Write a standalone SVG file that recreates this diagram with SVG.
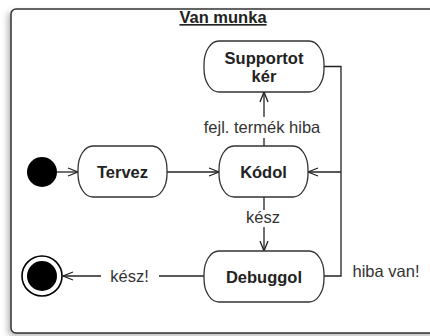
<svg xmlns="http://www.w3.org/2000/svg" width="430" height="336" viewBox="0 0 430 336">
  <style>
    .node { fill: #ffffff; stroke: #333333; stroke-width: 1.3; }
    .bold { font-family: "Liberation Sans", Arial, sans-serif; font-weight: bold; font-size: 16.5px; fill: #222222; text-anchor: middle; }
    .lbl { font-family: "Liberation Sans", Arial, sans-serif; font-size: 16.5px; fill: #333333; text-anchor: middle; }
    .edge { fill: none; stroke: #222222; stroke-width: 1.3; }
  </style>
  <defs>
    <marker id="arr" viewBox="0 0 12 10" refX="11" refY="5" markerWidth="12" markerHeight="10" markerUnits="userSpaceOnUse" orient="auto">
      <path d="M1,1 L11,5 L1,9" fill="none" stroke="#222222" stroke-width="1.3"/>
    </marker>
    <filter id="shadow" x="-10%" y="-10%" width="120%" height="120%">
      <feGaussianBlur stdDeviation="3"/>
    </filter>
  </defs>
  <rect width="430" height="336" fill="#ffffff"/>
  <g id="frame">
    <rect x="8" y="12" width="440" height="324" rx="5" fill="#b0b0b0" filter="url(#shadow)"/>
    <rect x="11" y="9" width="440" height="324" rx="5" fill="#ffffff" stroke="#333333" stroke-width="1.5"/>
    <text x="223" y="23" class="bold" text-decoration="underline">Van munka</text>
  </g>
  <g id="connectors">
    <line class="edge" x1="57" y1="172" x2="78" y2="172" marker-end="url(#arr)"/>
    <line class="edge" x1="167" y1="172" x2="219" y2="172" marker-end="url(#arr)"/>
    <line class="edge" x1="264" y1="146" x2="264" y2="138"/>
    <line class="edge" x1="264" y1="117" x2="264" y2="92" marker-end="url(#arr)"/>
    <line class="edge" x1="264" y1="197" x2="264" y2="210"/>
    <line class="edge" x1="264" y1="227" x2="264" y2="251" marker-end="url(#arr)"/>
    <polyline class="edge" points="324,66.5 341,66.5 341,276 324,276"/>
    <line class="edge" x1="341" y1="172" x2="308" y2="172" marker-end="url(#arr)"/>
    <line class="edge" x1="204" y1="276" x2="159" y2="276"/>
    <line class="edge" x1="101" y1="276" x2="63" y2="276" marker-end="url(#arr)"/>
    <text x="262" y="133" class="lbl">fejl. termék hiba</text>
    <text x="263" y="223" class="lbl">kész</text>
    <text x="129.5" y="282" class="lbl">kész!</text>
    <text x="386" y="276.5" class="lbl">hiba van!</text>
  </g>
  <g id="start">
    <circle cx="42" cy="172" r="15" fill="#000000"/>
  </g>
  <g id="tervez">
    <rect class="node" x="78" y="146" width="89" height="51" rx="15" ry="23"/>
    <text x="122.5" y="177.5" class="bold">Tervez</text>
  </g>
  <g id="kodol">
    <rect class="node" x="219" y="146" width="89" height="51" rx="15" ry="23"/>
    <text x="263.5" y="177.5" class="bold">Kódol</text>
  </g>
  <g id="supportot">
    <rect class="node" x="204" y="41" width="120" height="51" rx="15" ry="23"/>
    <text x="264" y="64" class="bold">Supportot</text>
    <text x="264" y="82" class="bold">kér</text>
  </g>
  <g id="debuggol">
    <rect class="node" x="204" y="251" width="120" height="51" rx="15" ry="23"/>
    <text x="264" y="282.5" class="bold">Debuggol</text>
  </g>
  <g id="end">
    <circle cx="42" cy="276" r="20" fill="#ffffff" stroke="#000000" stroke-width="1.6"/>
    <circle cx="42" cy="276" r="15" fill="#000000"/>
  </g>
</svg>
